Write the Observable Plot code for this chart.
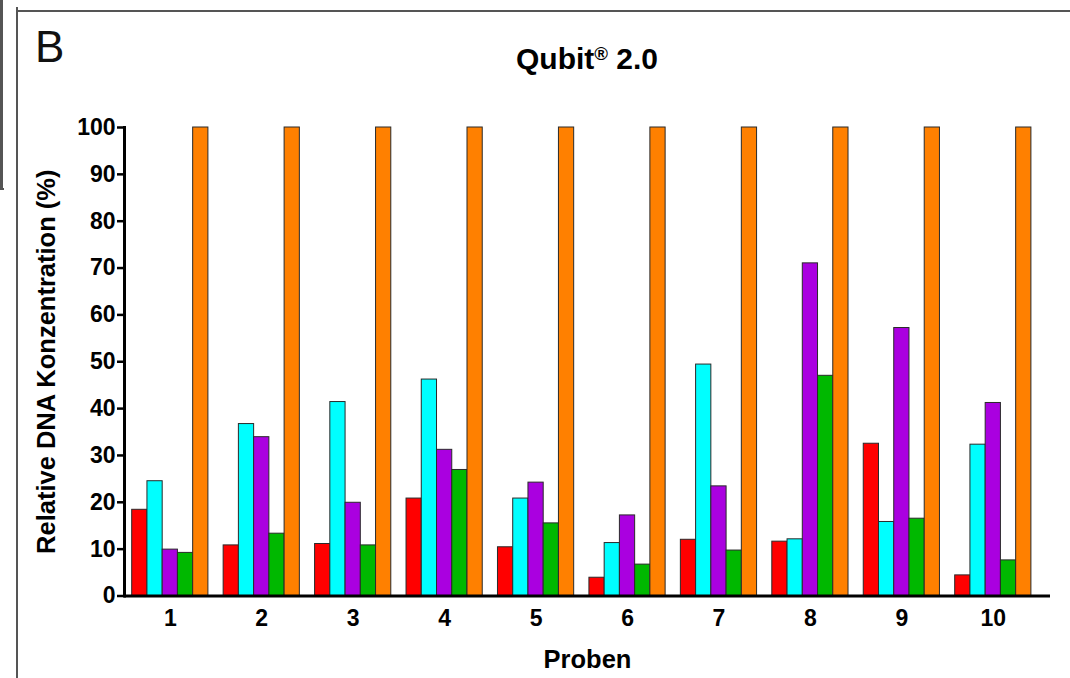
<!DOCTYPE html>
<html>
<head>
<meta charset="utf-8">
<script src="https://cdn.jsdelivr.net/npm/d3@7"></script>
<script src="https://cdn.jsdelivr.net/npm/@observablehq/plot@0.6"></script>
<style>
  html, body { margin: 0; padding: 0; background: #fff; }
  #wrap { position: relative; width: 1070px; height: 678px; overflow: hidden; font-family: "Liberation Sans", Arial, sans-serif; }
  #chart svg text { font-family: "Liberation Sans", Arial, sans-serif; font-weight: bold; fill: #000; }
  .line { position: absolute; background: #555; }
  #panel { position: absolute; left: 35px; top: 25px; font-size: 44px; line-height: 1; color: #111; }
  #title { position: absolute; left: 124px; width: 926px; top: 44px; text-align: center; font-size: 30px; font-weight: bold; line-height: 1; color: #000; }
  #title sup { font-size: 62%; vertical-align: 0.5em; line-height: 0; }
</style>
</head>
<body>
<div id="wrap">
  <div id="chart"></div>
  <div class="line" style="left:0;top:0;width:3px;height:190px;"></div>
  <div class="line" style="left:0;top:188px;width:4px;height:2px;"></div>
  <div class="line" style="left:16px;top:7px;width:2px;height:671px;"></div>
  <div class="line" style="left:16px;top:10px;width:1054px;height:2px;"></div>
  <div id="panel">B</div>
  <div id="title">Qubit<sup>®</sup> 2.0</div>
</div>
<script>
const probes = ["1","2","3","4","5","6","7","8","9","10"];
const seriesNames = ["Serie 1","Serie 2","Serie 3","Serie 4","Serie 5"];
const seriesColors = ["#ff0000","#00ffff","#aa00e0","#00b800","#ff8000"];
const red    = [18.4, 10.8, 11.1, 20.8, 10.4, 3.9, 12.0, 11.6, 32.5, 4.4];
const cyan   = [24.5, 36.7, 41.4, 46.2, 20.8, 11.3, 49.4, 12.1, 15.8, 32.3];
const purple = [9.9, 33.9, 19.9, 31.2, 24.2, 17.2, 23.4, 71.0, 57.2, 41.2];
const green  = [9.2, 13.3, 10.8, 26.9, 15.5, 6.7, 9.7, 47.0, 16.5, 7.6];
const orange = [100, 100, 100, 100, 100, 100, 100, 100, 100, 100];
const yTicks = [0,10,20,30,40,50,60,70,80,90,100];

const seriesValues = [red, cyan, purple, green, orange];

// slot keys: 5 bars per probe, one empty slot between probes
const slots = [];
probes.forEach((p, i) => {
  seriesNames.forEach((s, j) => slots.push(p + "|" + j));
  if (i < probes.length - 1) slots.push(p + "|gap");
});

const rows = [];
probes.forEach((p, i) => {
  seriesNames.forEach((s, j) => {
    rows.push({probe: p, slot: p + "|" + j, series: s, value: seriesValues[j][i]});
  });
});

const centerSlots = probes.map(p => p + "|2");

const W = 1070, H = 678;
const chart = Plot.plot({
  width: W,
  height: H,
  marginLeft: 124,
  marginRight: 20,
  marginTop: 127,
  marginBottom: 82.5,
  style: {background: "transparent", color: "#000", overflow: "visible"},
  x: {type: "band", domain: slots, range: [131.7, 1030.9], padding: 0, round: false},
  y: {domain: [0, 100]},
  color: {type: "ordinal", domain: seriesNames, range: seriesColors},
  marks: [
    Plot.barY(rows, {x: "slot", y: "value", fill: "series", stroke: "#2a2a2a", strokeWidth: 1, inset: 0}),
    Plot.frame({anchor: "left", stroke: "#000", strokeWidth: 3}),
    Plot.ruleY([0], {stroke: "#000", strokeWidth: 3}),
    Plot.axisY({
      ticks: yTicks, tickSize: 7, tickPadding: 2, strokeWidth: 2.5, fontSize: 23,
      label: "Relative DNA Konzentration (%)", labelAnchor: "center", labelOffset: 88, labelArrow: "none"
    }),
    Plot.axisX({
      ticks: centerSlots, tickFormat: d => d.split("|")[0], tickSize: 0, tickPadding: 14, fontSize: 23,
      label: "Proben", labelAnchor: "center", labelOffset: 72, labelArrow: "none"
    })
  ]
});
document.getElementById("chart").appendChild(chart);
// enlarge axis titles
chart.querySelectorAll("g[aria-label='y-axis label'] text, g[aria-label='x-axis label'] text").forEach(t => t.setAttribute("font-size", 25.5));
</script>
</body>
</html>
